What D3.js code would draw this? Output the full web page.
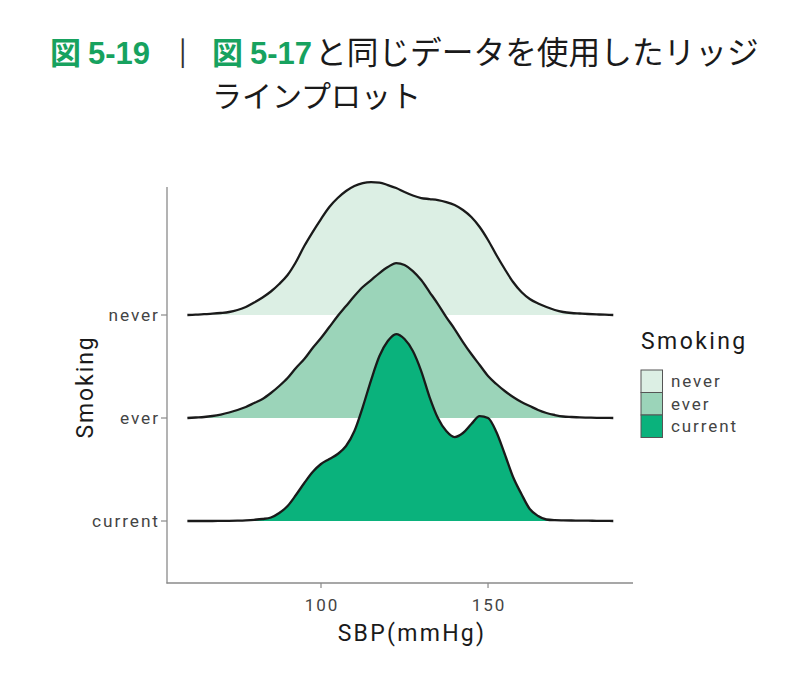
<!DOCTYPE html>
<html><head><meta charset="utf-8">
<script src="https://cdn.jsdelivr.net/npm/d3@7"></script>
<style>body{margin:0;background:#fff;} svg{display:block;}</style>
</head><body>
<script>
// ---- data ----
const categories = ["current", "ever", "never"];   // bottom -> top
const sbp = [60,62.5,65,67.5,70,72.5,75,77.5,80,82.5,85,87.5,90,92.5,95,97.5,100,102.5,105,107.5,110,112.5,115,117.5,120,122.5,125,127.5,130,132.5,135,137.5,140,142.5,145,147.5,150,152.5,155,157.5,160,162.5,165,167.5,170,172.5,175,177.5,180,182.5,185,187.5];
// relative density (x1e-4)
const densityNever = [0,0.3,0.8,1.3,2,3,5,8,12.5,17.5,23.5,31,40,53,69,83,96,108,117,124,129,132,133,132.5,130,127,123,119.5,117,116,115,113,110,105,98,88,75,60,46,33,23,16,11.5,8,5,3,2,1.5,1,0.6,0.3,0];
const densityEver = [0,0.5,1,2,3.5,5.5,8,11,15,19,25,32,40,50,59,70,80,91,102,112,122,131,138,145,151,155,153,147,138,126,114,101,89,76,64,53,42,34,27,21,16,12,8,5,3,1.5,1,0.6,0.4,0.2,0.1,0];
const densityCurrent = [0,0,0,0,0.1,0.2,0.4,0.7,1.2,2,3.5,8,15,26,38,49,57,62,67,75,90,114,141,165,180,187,182,170,150,124,103,90,84,88,97,105,103,89,67,44,27,12,5,1.5,0.8,0.6,0.5,0.4,0.3,0.2,0.1,0];
const xTicks = [100, 150];
const legendTitle = "Smoking";
const xTitle = "SBP(mmHg)";
const yTitle = "Smoking";
const colors = {never: "#dcefe4", ever: "#9bd4b9", current: "#0ab27c"};

// ---- layout ----
const W = 800, H = 679;
const svg = d3.select("body").append("svg").attr("width", W).attr("height", H);
const font = "Roboto, 'Noto Sans', sans-serif";
const jp = "'Noto Sans CJK JP', sans-serif";
const lat = "'Liberation Sans', Arial, sans-serif";

// title
const green = "#17a25f";
const t1 = svg.append("text").attr("x", 50).attr("y", 64).attr("font-size", 31).attr("font-weight", 700).attr("fill", green);
t1.append("tspan").attr("font-family", jp).text("図");
t1.append("tspan").attr("font-family", lat).attr("dx", 7).text("5-19");
svg.append("text").attr("x", 175).attr("y", 62).attr("font-family", "'DejaVu Sans', sans-serif").attr("font-size", 25).attr("fill", "#333").text("│");
const t2 = svg.append("text").attr("x", 212).attr("y", 64).attr("font-size", 31);
t2.append("tspan").attr("font-weight", 700).attr("fill", green).attr("font-family", jp).text("図");
t2.append("tspan").attr("font-weight", 700).attr("fill", green).attr("font-family", lat).attr("dx", 7).text("5-17");
t2.append("tspan").attr("fill", "#1a1a1a").attr("font-weight", 400).attr("font-family", jp).attr("font-size", 31.7).attr("dx", 3).text("と同じデータを使用したリッジ");
svg.append("text").attr("x", 212).attr("y", 107).attr("font-family", jp).attr("font-size", 30).attr("fill", "#1a1a1a").text("ラインプロット");

// scales
const x = d3.scaleLinear().domain([53.9, 193.4]).range([167, 633]);
const y = d3.scalePoint().domain(categories).range([521, 315]);
const step = y.step();
const maxD = d3.max([...densityNever, ...densityEver, ...densityCurrent]);
const h = d3.scaleLinear().domain([0, maxD]).range([0, step * 1.815]);

const series = {never: densityNever, ever: densityEver, current: densityCurrent};
const drawOrder = ["never", "ever", "current"];
drawOrder.forEach(cat => {
  const vals = series[cat];
  const pts = sbp.map((s, i) => [s, vals[i]]);
  const base = y(cat);
  const area = d3.area().x(d => x(d[0])).y0(base).y1(d => base - h(d[1])).curve(d3.curveMonotoneX);
  const line = d3.line().x(d => x(d[0])).y(d => base - h(d[1])).curve(d3.curveMonotoneX);
  svg.append("path").attr("d", area(pts)).attr("fill", colors[cat]);
  svg.append("path").attr("d", line(pts)).attr("fill", "none").attr("stroke", "#1a1a1a").attr("stroke-width", 2.3).attr("stroke-linejoin", "round");
});

// axes
const axisColor = "#8a8a8a";
const ls = 1.9;
svg.append("line").attr("x1", 167).attr("x2", 167).attr("y1", 187).attr("y2", 583.5).attr("stroke", axisColor).attr("stroke-width", 1.3);
svg.append("line").attr("x1", 166.5).attr("x2", 633).attr("y1", 583).attr("y2", 583).attr("stroke", axisColor).attr("stroke-width", 1.3);
const gx = svg.append("g");
xTicks.forEach(t => {
  gx.append("line").attr("x1", x(t)).attr("x2", x(t)).attr("y1", 583).attr("y2", 588).attr("stroke", axisColor).attr("stroke-width", 1.2);
  gx.append("text").attr("x", x(t) + ls / 2).attr("y", 611).attr("text-anchor", "middle").attr("font-family", font).attr("font-size", 17).attr("letter-spacing", ls).attr("fill", "#444").text(t);
});
categories.forEach(c => {
  svg.append("line").attr("x1", 161).attr("x2", 167).attr("y1", y(c)).attr("y2", y(c)).attr("stroke", axisColor).attr("stroke-width", 1.2);
  svg.append("text").attr("x", 158 + ls).attr("y", y(c)).attr("dy", "0.35em").attr("text-anchor", "end").attr("font-family", font).attr("font-size", 17.3).attr("letter-spacing", ls).attr("fill", "#444").text(c);
});
svg.append("text").attr("x", 412).attr("y", 641).attr("text-anchor", "middle").attr("font-family", font).attr("font-size", 23).attr("letter-spacing", 2.3).attr("fill", "#1a1a1a").text(xTitle);
svg.append("text").attr("transform", "translate(93,387) rotate(-90)").attr("text-anchor", "middle").attr("font-family", font).attr("font-size", 23).attr("letter-spacing", 1.9).attr("fill", "#1a1a1a").text(yTitle);

// legend
svg.append("text").attr("x", 641).attr("y", 349).attr("font-family", font).attr("font-size", 23).attr("letter-spacing", 2.4).attr("fill", "#1a1a1a").text(legendTitle);
["never", "ever", "current"].forEach((c, i) => {
  const ky = 370 + i * 22.5;
  svg.append("rect").attr("x", 641).attr("y", ky).attr("width", 21.5).attr("height", 22.5).attr("fill", colors[c]).attr("stroke", "#555").attr("stroke-width", 1);
  svg.append("text").attr("x", 671).attr("y", ky + 11.5).attr("dy", "0.35em").attr("font-family", font).attr("font-size", 17).attr("letter-spacing", ls).attr("fill", "#444").text(c);
});
</script>
</body></html>
